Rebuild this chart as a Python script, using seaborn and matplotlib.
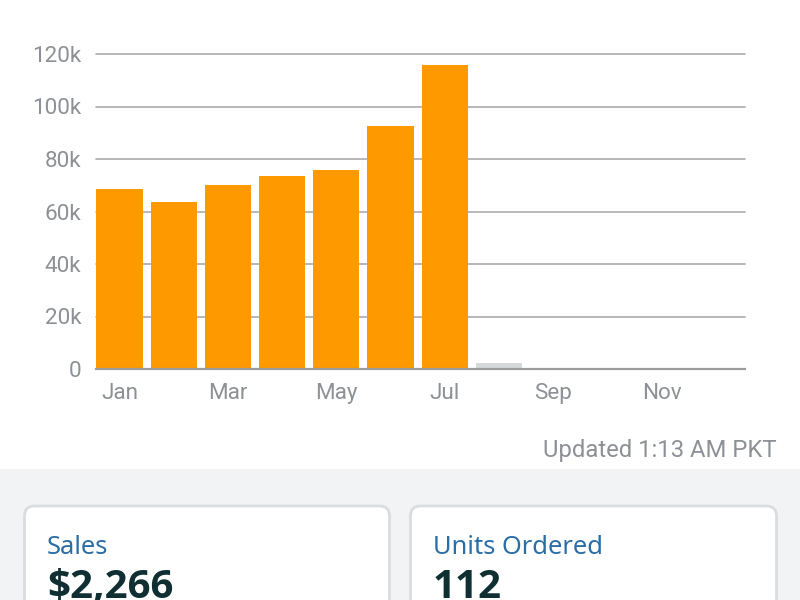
import matplotlib
matplotlib.use("Agg")
import matplotlib.pyplot as plt
from matplotlib.patches import FancyBboxPatch, Rectangle
import pandas as pd
import seaborn as sns

months = ["Jan", "Feb", "Mar", "Apr", "May", "Jun", "Jul", "Aug", "Sep", "Oct", "Nov", "Dec"]
sales = [68700, 63700, 70200, 73500, 75800, 92600, 115800, 2400, 0, 0, 0, 0]
bar_colors = ["#ff9900"] * 7 + ["#d5d9dc"] * 5
y_ticks = [0, 20000, 40000, 60000, 80000, 100000, 120000]
y_labels = ["0", "20k", "40k", "60k", "80k", "100k", "120k"]
shown_months = ["Jan", "", "Mar", "", "May", "", "Jul", "", "Sep", "", "Nov", ""]
updated_text = "Updated 1:13 AM PKT"
card_titles = ["Sales", "Units Ordered"]
card_values = ["$2,266", "112"]

sns.set_theme(style="white")
plt.rcParams["font.family"] = ["Roboto", "DejaVu Sans"]

W, H = 800, 600
fig = plt.figure(figsize=(W / 100, H / 100), dpi=100, facecolor="white")

# Page decoration in pixel coordinates
bg = fig.add_axes([0, 0, 1, 1], zorder=0)
bg.set_xlim(0, W)
bg.set_ylim(H, 0)
bg.axis("off")
bg.add_patch(Rectangle((0, 469), W, 131, facecolor="#f2f3f5", edgecolor="none"))
for x0, x1, title, value in zip([24.5, 410.5], [389.5, 776.5], card_titles, card_values):
    bg.add_patch(FancyBboxPatch((x0 + 8, 514), x1 - x0 - 16, 140,
                                boxstyle="round,pad=8,rounding_size=10",
                                facecolor="white", edgecolor="#dadddf", linewidth=2))
    bg.text(x0 + 22.5, 547, title, family=["Noto Sans", "DejaVu Sans"], fontsize=18.4,
            color="#2b6ea6", va="center", ha="left")
    bg.text(x0 + 22.5, 598, value, family=["Open Sans", "DejaVu Sans"], fontsize=29,
            color="#0f2f33", fontweight="bold", va="baseline", ha="left")
bg.text(777, 450, updated_text, fontsize=17.2, color="#8d9196", ha="right", va="center")

# Chart
left, right, top, bottom = 96, 745, 54, 369
ax = fig.add_axes([left / W, 1 - bottom / H, (right - left) / W, (bottom - top) / H],
                  zorder=1, facecolor="none")
df = pd.DataFrame({"month": months, "sales": sales})
sns.barplot(data=df, x="month", y="sales", hue="month", palette=bar_colors, legend=False,
            order=months, width=0.855, saturation=1, linewidth=0, ax=ax, zorder=3)
ax.set_xlim(-0.434, 11.54)
ax.set_ylim(0, 120000)
ax.set_xlabel("")
ax.set_ylabel("")
ax.set_yticks(y_ticks, y_labels)
ax.set_xticks(range(12), shown_months)
ax.yaxis.grid(True, color="#a9abad", linewidth=1.2, zorder=0)
ax.xaxis.grid(False)
ax.set_axisbelow(True)
for gl in ax.get_ygridlines():
    gl.set_clip_on(False)
for name in ["top", "right", "left"]:
    ax.spines[name].set_visible(False)
ax.spines["bottom"].set_color("#9a9c9e")
ax.spines["bottom"].set_linewidth(1.6)
ax.spines["bottom"].set_zorder(5)
ax.tick_params(axis="both", length=0, labelsize=16.2, labelcolor="#8d9196")
ax.tick_params(axis="x", pad=10)
ax.tick_params(axis="y", pad=10.5)

fig.savefig("out.png", dpi=100)
